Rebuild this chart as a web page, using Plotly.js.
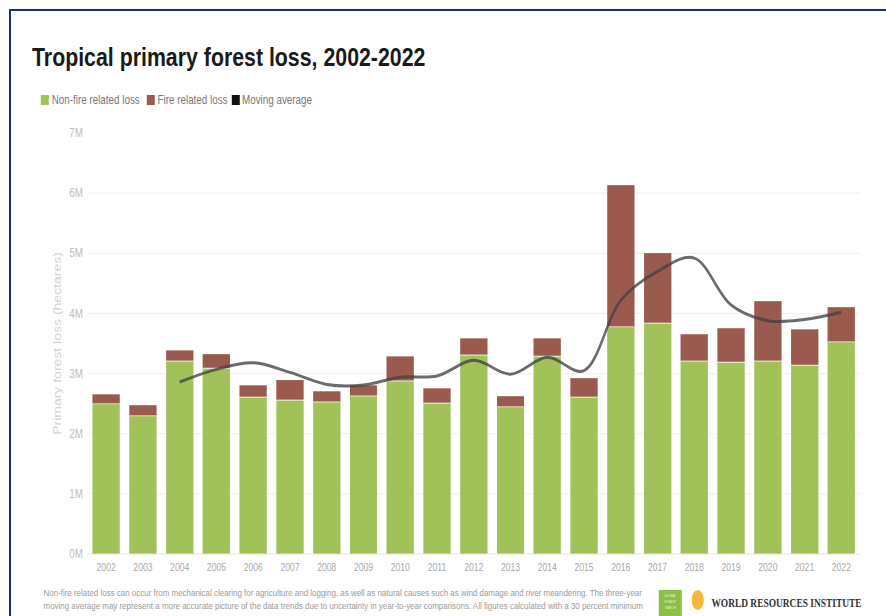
<!DOCTYPE html>
<html>
<head>
<meta charset="utf-8">
<script src="https://cdn.plot.ly/plotly-3.0.1.min.js"></script>
<style>
  html, body { margin: 0; padding: 0; background: #fff; }
  #wrap { position: relative; width: 886px; height: 616px; overflow: hidden; background: #fff; }
  #chart { position: absolute; left: 0; top: 0; width: 1080px; height: 616px;
           transform: scaleX(0.82037); transform-origin: 0 0; }
  #frame { position: absolute; left: 9px; top: 9px; width: 900px; height: 700px;
           border-left: 2px solid #1c2f6e; border-top: 2px solid #1c2f6e; pointer-events: none; }
</style>
</head>
<body>
<div id="wrap">
  <div id="chart"></div>
  <div id="frame"></div>
</div>
<script>
// ---- data (millions of hectares) ----
const years = ["2002","2003","2004","2005","2006","2007","2008","2009","2010","2011","2012",
               "2013","2014","2015","2016","2017","2018","2019","2020","2021","2022"];
const nonFireLoss = [2.50,2.30,3.21,3.09,2.61,2.56,2.53,2.63,2.88,2.51,3.31,
                     2.45,3.29,2.61,3.78,3.84,3.21,3.19,3.21,3.14,3.53];
const fireLoss    = [0.16,0.18,0.18,0.24,0.20,0.34,0.18,0.18,0.41,0.25,0.28,
                     0.18,0.30,0.32,2.36,1.17,0.45,0.57,1.00,0.60,0.58];
const avgYears = ["2004","2005","2006","2007","2008","2009","2010","2011","2012","2013",
                  "2014","2015","2016","2017","2018","2019","2020","2021","2022"];
const movingAverage = [2.86,3.07,3.18,3.02,2.82,2.81,2.94,2.96,3.22,2.99,
                       3.27,3.05,4.22,4.70,4.92,4.14,3.88,3.90,4.02];
const yTickVals = [0,1,2,3,4,5,6,7];
const yTickText = ["0M","1M","2M","3M","4M","5M","6M","7M"];
const legendLabels = ["Non-fire related loss","Fire related loss","Moving average"];
const footnote1 = "Non-fire related loss can occur from mechanical clearing for agriculture and logging, as well as natural causes such as wind damage and river meandering. The three-year";
const footnote2 = "moving average may represent a more accurate picture of the data trends due to uncertainty in year-to-year comparisons. All figures calculated with a 30 percent minimum";

const GREEN = "#a0c259", BROWN = "#9a5a4e", LINE = "rgba(65,65,65,0.78)";
const SANS = "Liberation Sans, Arial, sans-serif";

// page is drawn 1080 px wide and squeezed horizontally to 886 px (like the reference image)
const SX = 886 / 1080;
const W = 1080, H = 616;
const cx = x => x / 886;              // container fraction from reference px
const cy = y => 1 - y / H;
const PX0 = 88, PX1 = 860, PY0 = 554, PY1 = 133;   // plot area in reference px
const pfx = x => (x - PX0) / (PX1 - PX0);
const pfy = y => (PY0 - y) / (PY0 - PY1);

const traces = [
  { type: "bar", x: years, y: nonFireLoss, name: legendLabels[0],
    marker: { color: GREEN, line: { color: "rgba(255,255,255,0.7)", width: 1 } } },
  { type: "bar", x: years, y: fireLoss, name: legendLabels[1],
    marker: { color: BROWN, line: { color: "rgba(255,255,255,0.7)", width: 1 } } },
  { type: "scatter", mode: "lines", x: avgYears, y: movingAverage, name: legendLabels[2],
    line: { color: LINE, width: 3, shape: "spline", smoothing: 1 } }
];

const legendItems = [
  { sx: 41, tx: 50, color: GREEN },
  { sx: 147, tx: 156, color: BROWN },
  { sx: 232, tx: 241, color: "#111" }
];

const shapes = [];
const annotations = [];
legendItems.forEach((it, i) => {
  shapes.push({ type: "rect", xref: "paper", yref: "paper", layer: "above",
    x0: pfx(it.sx), x1: pfx(it.sx + 8), y0: pfy(105), y1: pfy(95),
    fillcolor: it.color, line: { width: 0 } });
  annotations.push({ xref: "paper", yref: "paper", x: pfx(it.tx), y: pfy(100),
    xanchor: "left", yanchor: "middle", showarrow: false, text: legendLabels[i],
    font: { family: SANS, size: 12, color: "#777" } });
});

// footnote
[footnote1, footnote2].forEach((t, i) => {
  annotations.push({ xref: "paper", yref: "paper", x: pfx(42), y: pfy(592 + i * 13),
    xanchor: "left", yanchor: "middle", showarrow: false, text: t,
    font: { family: SANS, size: 9.7, color: "#9a9a9a" } });
});

// logos (decoration)
shapes.push({ type: "rect", xref: "paper", yref: "paper", layer: "above",
  x0: pfx(659), x1: pfx(682), y0: pfy(620), y1: pfy(590),
  fillcolor: "#8dbf45", line: { width: 0 } });
["GLOBAL","FOREST","WATCH"].forEach((t, i) => {
  annotations.push({ xref: "paper", yref: "paper", x: pfx(670.5), y: pfy(596 + i * 6),
    xanchor: "center", yanchor: "middle", showarrow: false, text: t,
    font: { family: SANS, size: 3.5, color: "#eef5e0" } });
});
shapes.push({ type: "circle", xref: "paper", yref: "paper", layer: "above",
  x0: pfx(692), x1: pfx(704), y0: pfy(610), y1: pfy(590),
  fillcolor: "#f6b83c", line: { width: 0 } });
annotations.push({ xref: "paper", yref: "paper", x: pfx(710), y: pfy(603),
  xanchor: "left", yanchor: "middle", showarrow: false, text: "WORLD RESOURCES INSTITUTE",
  font: { family: "Liberation Serif, DejaVu Serif, serif", size: 11.5, color: "#333", weight: "bold" } });

const layout = {
  width: W, height: H,
  margin: { l: PX0 / SX, r: (886 - PX1) / SX, t: PY1, b: H - PY0 },
  paper_bgcolor: "#fff", plot_bgcolor: "#fff",
  barmode: "stack", bargap: 0.24,
  showlegend: false,
  title: { text: "Tropical primary forest loss, 2002-2022",
    xref: "container", yref: "container", x: cx(32), y: cy(57),
    xanchor: "left", yanchor: "middle",
    font: { family: SANS, size: 26, color: "#1a1a1a", weight: "bold" } },
  xaxis: { type: "category", showgrid: false, showline: false, zeroline: false, ticks: "",
    tickfont: { family: SANS, size: 10.5, color: "#a8a8a8" }, ticklabelstandoff: 6 },
  yaxis: { range: [0, 7], tickvals: yTickVals, ticktext: yTickText, showline: false,
    gridcolor: "#ececec", gridwidth: 1, zeroline: true, zerolinecolor: "#e2e2e2", ticks: "",
    tickfont: { family: SANS, size: 12, color: "#bdbdbd" }, ticklabelstandoff: 5,
    title: { text: "Primary forest loss (hectares)", standoff: 6,
      font: { family: SANS, size: 14, color: "#d2d2d2" } } },
  shapes: shapes,
  annotations: annotations
};

Plotly.newPlot("chart", traces, layout, { staticPlot: true, displayModeBar: false });
</script>
</body>
</html>
